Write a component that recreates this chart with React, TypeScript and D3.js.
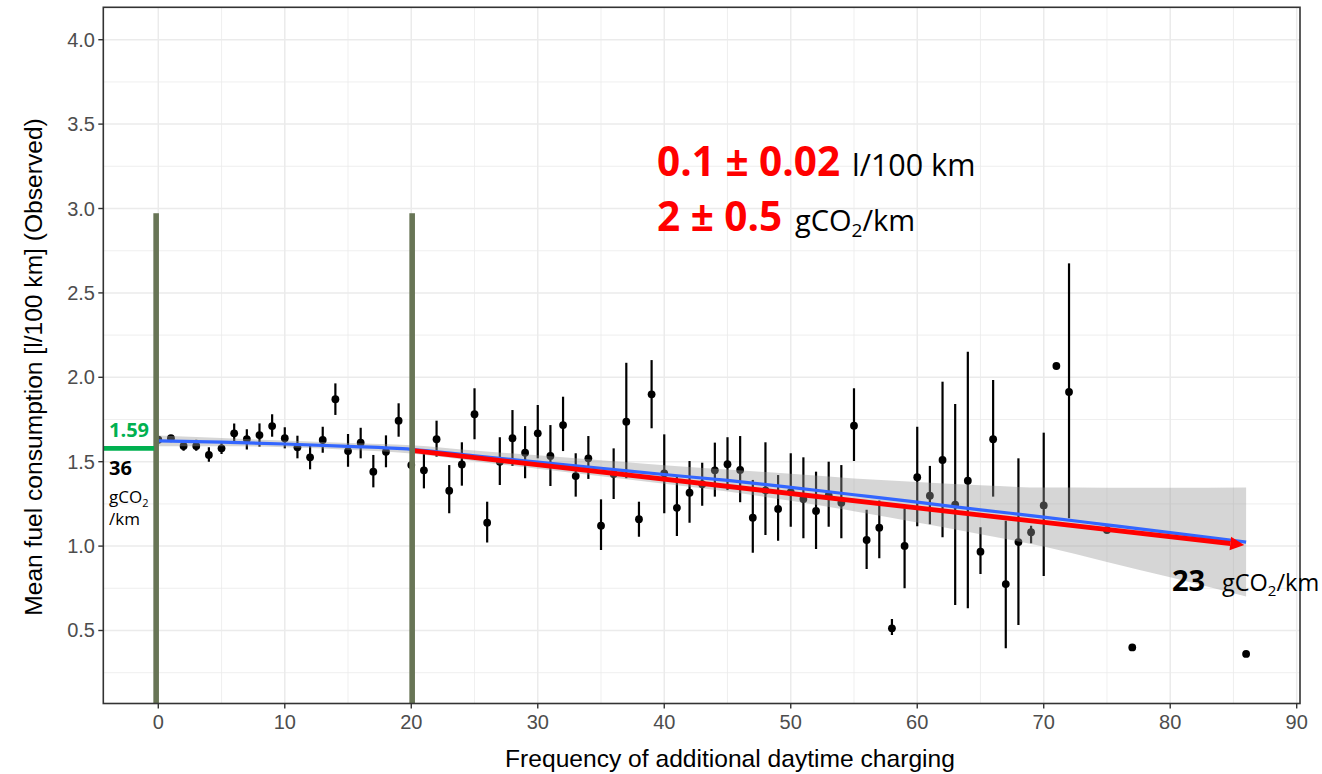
import React from "react";
import * as d3 from "d3";

// ---------- data ----------
const obsX = [
  0, 1, 2, 3, 4, 5, 6, 7, 8, 9, 10, 11, 12, 13, 14, 15, 16, 17, 18, 19, 20,
  21, 22, 23, 24, 25, 26, 27, 28, 29, 30, 31, 32, 33, 34, 35, 36, 37, 38, 39, 40,
  41, 42, 43, 44, 45, 46, 47, 48, 49, 50, 51, 52, 53, 54, 55, 56, 57, 58, 59, 60,
  61, 62, 63, 64, 65, 66, 67, 68, 69, 70, 71, 72, 75, 77, 86,
];
const obsMean = [
  1.63, 1.639, 1.593, 1.593, 1.54, 1.579, 1.668, 1.634, 1.658, 1.711, 1.639, 1.585, 1.526, 1.629, 1.87, 1.563, 1.613, 1.441, 1.559, 1.743, 1.48,
  1.449, 1.633, 1.328, 1.484, 1.781, 1.139, 1.5, 1.639, 1.553, 1.668, 1.534, 1.717, 1.415, 1.52, 1.121, 1.427, 1.737, 1.159, 1.899, 1.431,
  1.227, 1.316, 1.367, 1.449, 1.485, 1.451, 1.168, 1.33, 1.22, 1.32, 1.279, 1.208, 1.3, 1.257, 1.713, 1.036, 1.109, 0.513, 1.001, 1.408,
  1.299, 1.51, 1.246, 1.387, 0.967, 1.633, 0.775, 1.024, 1.082, 1.241, 2.067, 1.913, 1.095, 0.4, 0.361,
];
const obsLow: (number | null)[] = [
  1.61, 1.62, 1.565, 1.565, 1.5, 1.545, 1.609, 1.573, 1.589, 1.648, 1.579, 1.52, 1.455, 1.553, 1.777, 1.47, 1.52, 1.348, 1.467, 1.648, 1.42,
  1.342, 1.53, 1.194, 1.358, 1.633, 1.022, 1.362, 1.475, 1.402, 1.52, 1.356, 1.563, 1.293, 1.398, 0.977, 1.279, 1.402, 1.056, 1.698, 1.194,
  1.06, 1.139, 1.239, 1.293, 1.332, 1.26, 0.961, 1.066, 1.032, 1.115, 1.046, 0.983, 1.115, 1.046, 1.504, 0.865, 0.928, 0.473, 0.75, 1.117,
  1.13, 1.052, 0.651, 0.632, 0.835, 1.293, 0.395, 0.533, 1.017, 0.823, null, 1.165, null, null, null,
];
const obsHigh: (number | null)[] = [
  1.65, 1.655, 1.624, 1.63, 1.585, 1.615, 1.727, 1.692, 1.727, 1.781, 1.704, 1.654, 1.593, 1.707, 1.964, 1.664, 1.701, 1.54, 1.656, 1.846, 1.54,
  1.548, 1.743, 1.48, 1.615, 1.935, 1.263, 1.645, 1.806, 1.711, 1.836, 1.717, 1.885, 1.55, 1.652, 1.277, 1.579, 2.086, 1.263, 2.102, 1.662,
  1.411, 1.504, 1.494, 1.613, 1.645, 1.652, 1.392, 1.615, 1.421, 1.55, 1.526, 1.441, 1.5, 1.48, 1.935, 1.216, 1.27, 0.568, 1.224, 1.707,
  1.475, 1.974, 1.842, 2.152, 1.111, 1.984, 1.15, 1.52, 1.12, 1.672, null, 2.675, null, null, null,
];

const smoothX = [0, 5, 10, 15, 20, 25, 30, 35, 40, 45, 50, 55, 60, 65, 70, 75, 80, 86];
const smoothFit = [1.623, 1.616, 1.605, 1.591, 1.573, 1.535, 1.498, 1.461, 1.424, 1.389, 1.348, 1.304, 1.26, 1.215, 1.172, 1.126, 1.08, 1.024];
const smoothHigh = [1.655, 1.64, 1.625, 1.611, 1.598, 1.567, 1.538, 1.508, 1.479, 1.454, 1.428, 1.401, 1.38, 1.36, 1.347, 1.346, 1.345, 1.347];
const smoothLow = [1.591, 1.592, 1.585, 1.571, 1.548, 1.503, 1.458, 1.414, 1.369, 1.324, 1.268, 1.207, 1.14, 1.07, 0.997, 0.906, 0.815, 0.701];

const xTicks = [0, 10, 20, 30, 40, 50, 60, 70, 80, 90];
const xMinor = [5, 15, 25, 35, 45, 55, 65, 75, 85];
const yTicks = [0.5, 1.0, 1.5, 2.0, 2.5, 3.0, 3.5, 4.0];
const yMinor = [0.25, 0.75, 1.25, 1.75, 2.25, 2.75, 3.25, 3.75];

const trendX = [20.15, 85.85];
const trendY = [1.566, 1.006];
const markerX = [-0.17, 20.07];
const markerTop = 2.972;
const baselineValue = 1.579;

// ---------- layout ----------
const W = 1322;
const H = 774;
const PL = 103.3, PR = 1300, PT = 7.3, PB = 703.5;

const SANS = "'Liberation Sans', Arial, sans-serif";
const CAL = "'Open Sans', 'Noto Sans', sans-serif";

export default function App() {
  const x = d3.scaleLinear().domain([-4.3, 90.3]).range([103.9, 1300.5]);
  const y = d3.scaleLinear().domain([0.0675, 4.192]).range([PB, PT]);

  const pts = smoothX.map((v, i) => ({ x: v, f: smoothFit[i], lo: smoothLow[i], hi: smoothHigh[i] }));
  const line = d3
    .line<{ x: number; f: number }>()
    .x((d) => x(d.x))
    .y((d) => y(d.f))
    .curve(d3.curveMonotoneX);
  const area = d3
    .area<{ x: number; lo: number; hi: number }>()
    .x((d) => x(d.x))
    .y0((d) => y(d.lo))
    .y1((d) => y(d.hi))
    .curve(d3.curveMonotoneX);

  // red arrow geometry
  const ax0 = x(trendX[0]), ay0 = y(trendY[0]);
  const ax1 = x(trendX[1]), ay1 = y(trendY[1]);
  const ang = Math.atan2(ay1 - ay0, ax1 - ax0);
  const headL = 14, headW = 6.8;
  const bx = ax1 - headL * Math.cos(ang), by = ay1 - headL * Math.sin(ang);
  const nx = -Math.sin(ang), ny = Math.cos(ang);
  const head = `${ax1},${ay1} ${bx + nx * headW},${by + ny * headW} ${bx - nx * headW},${by - ny * headW}`;

  const fmt = d3.format(".1f");

  return (
    <svg width={W} height={H} style={{ position: "absolute", left: 0, top: 0, background: "#fff" }}>
      <rect x={0} y={0} width={W} height={H} fill="#fff" />
      <defs>
        <clipPath id="panel">
          <rect x={PL} y={PT} width={PR - PL} height={PB - PT} />
        </clipPath>
      </defs>
      {/* grid */}
      <g stroke="#ebebeb">
        {xMinor.map((v) => (
          <line key={"xm" + v} x1={x(v)} x2={x(v)} y1={PT} y2={PB} strokeWidth={0.8} />
        ))}
        {yMinor.map((v) => (
          <line key={"ym" + v} x1={PL} x2={PR} y1={y(v)} y2={y(v)} strokeWidth={0.8} />
        ))}
        {xTicks.map((v) => (
          <line key={"xM" + v} x1={x(v)} x2={x(v)} y1={PT} y2={PB} strokeWidth={1.5} />
        ))}
        {yTicks.map((v) => (
          <line key={"yM" + v} x1={PL} x2={PR} y1={y(v)} y2={y(v)} strokeWidth={1.5} />
        ))}
      </g>

      <g clipPath="url(#panel)">
        {/* error bars */}
        <g stroke="#000" strokeWidth={2.2}>
          {obsX.map((v, i) =>
            obsLow[i] != null && obsHigh[i] != null ? (
              <line key={"e" + v} x1={x(v)} x2={x(v)} y1={y(obsLow[i] as number)} y2={y(obsHigh[i] as number)} />
            ) : null
          )}
        </g>
        {/* points */}
        <g fill="#000">
          {obsX.map((v, i) => (
            <circle key={"p" + v} cx={x(v)} cy={y(obsMean[i])} r={3.9} />
          ))}
        </g>
        {/* ribbon */}
        <path d={area(pts) || ""} fill="#999999" fillOpacity={0.4} />
        {/* smooth */}
        <path d={line(pts) || ""} fill="none" stroke="#3366FF" strokeWidth={3.2} />
        {/* red trend arrow */}
        <line x1={ax0} y1={ay0} x2={bx} y2={by} stroke="#FF0000" strokeWidth={4.8} />
        <polygon points={head} fill="#FF0000" />
        {/* green markers */}
        {markerX.map((v) => (
          <rect key={"m" + v} x={x(v) - 2.8} y={y(markerTop)} width={5.6} height={PB - y(markerTop)} fill="#687556" />
        ))}
        <line x1={PL} x2={x(markerX[0]) - 2} y1={y(baselineValue)} y2={y(baselineValue)} stroke="#00B050" strokeWidth={4.7} />
      </g>

      {/* panel border */}
      <rect x={PL} y={PT} width={PR - PL} height={PB - PT} fill="none" stroke="#333333" strokeWidth={1.6} />

      {/* axes ticks */}
      <g stroke="#333333" strokeWidth={1.4}>
        {xTicks.map((v) => (
          <line key={"xt" + v} x1={x(v)} x2={x(v)} y1={PB} y2={PB + 5} />
        ))}
        {yTicks.map((v) => (
          <line key={"yt" + v} x1={PL - 5} x2={PL} y1={y(v)} y2={y(v)} />
        ))}
      </g>
      <g fill="#4d4d4d" fontFamily={SANS} fontSize={20}>
        {xTicks.map((v) => (
          <text key={"xl" + v} x={x(v)} y={729} textAnchor="middle">
            {v}
          </text>
        ))}
        {yTicks.map((v) => (
          <text key={"yl" + v} x={95} y={y(v) + 7} textAnchor="end">
            {fmt(v)}
          </text>
        ))}
      </g>
      <text x={730} y={767} textAnchor="middle" fontFamily={SANS} fontSize={24.6} fill="#000">
        Frequency of additional daytime charging
      </text>
      <text
        transform={`translate(42, 367) rotate(-90)`}
        textAnchor="middle"
        fontFamily={SANS}
        fontSize={24.6}
        fill="#000"
      >
        Mean fuel consumption [l/100 km] (Observed)
      </text>

      {/* annotations */}
      <g fontFamily={CAL}>
        <text x={109} y={436.7} fontSize={20} fontWeight={700} fill="#00B050">1.59</text>
        <text x={109} y={475} fontSize={20} fontWeight={700} fill="#000">36</text>
        <text x={109} y={502.7} fontSize={17} fill="#000">
          gCO<tspan fontSize={11} dy={4}>2</tspan>
        </text>
        <text x={109} y={525} fontSize={17} fill="#000">/km</text>

        <text x={657} y={176} fontSize={40.5} fontWeight={700} fill="#FF0000">0.1 ± 0.02</text>
        <text x={852} y={176} fontSize={30.5} fill="#000">l/100 km</text>
        <text x={657} y={231} fontSize={40.5} fontWeight={700} fill="#FF0000">2 ± 0.5</text>
        <text x={795} y={231} fontSize={29} fill="#000">
          gCO<tspan fontSize={19} dy={6}>2</tspan>
          <tspan dy={-6}>/km</tspan>
        </text>

        <text x={1172} y={591} fontSize={29} fontWeight={700} fill="#000">23</text>
        <text x={1222} y={591} fontSize={23.5} fill="#000">
          gCO<tspan fontSize={15} dy={5}>2</tspan>
          <tspan dy={-5}>/km</tspan>
        </text>
      </g>
    </svg>
  );
}
